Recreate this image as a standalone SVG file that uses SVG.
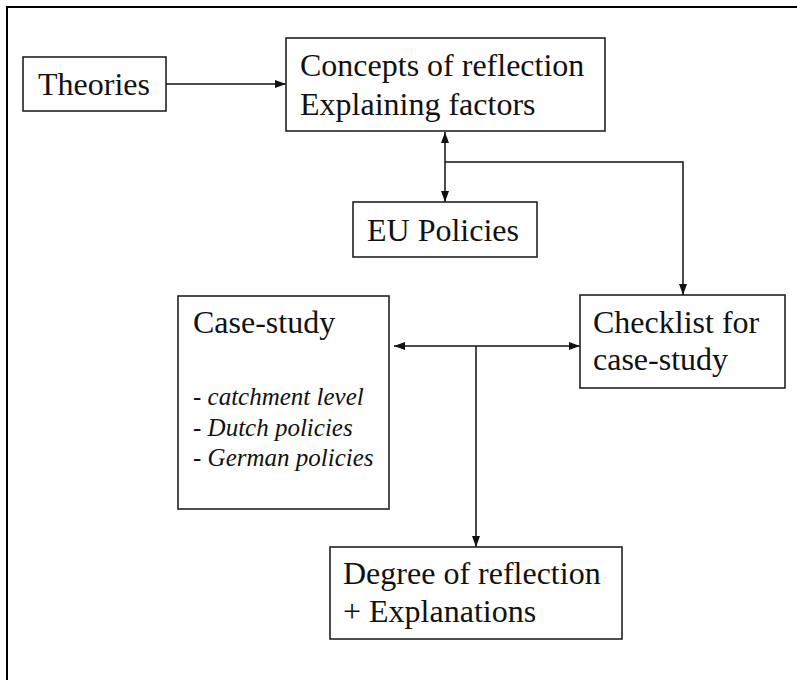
<svg xmlns="http://www.w3.org/2000/svg" width="797" height="680" viewBox="0 0 797 680">
<defs>
<style>
.box{fill:#fff;stroke:#222;stroke-width:1.6}
.t{font-family:"Liberation Serif","Times New Roman",serif;font-size:32px;fill:#111}
.it{font-family:"Liberation Serif","Times New Roman",serif;font-size:25px;font-style:italic;fill:#111}
.c{fill:none;stroke:#111;stroke-width:1.5}
</style>
<marker id="ah" markerUnits="userSpaceOnUse" markerWidth="11" markerHeight="11" viewBox="0 0 11 11" refX="11" refY="5.5" orient="auto-start-reverse">
<path d="M0,1.5 L11,5.5 L0,9.5 z" fill="#111"/>
</marker>
</defs>
<rect x="0" y="0" width="797" height="680" fill="#fff"/>
<rect x="7" y="7" width="810" height="700" fill="none" stroke="#000" stroke-width="2"/>
<g id="connectors">
<line class="c" x1="166" y1="84" x2="286" y2="84" marker-end="url(#ah)"/>
<line class="c" x1="445" y1="132" x2="445" y2="202" marker-start="url(#ah)" marker-end="url(#ah)"/>
<polyline class="c" points="445,162 683,162 683,295" marker-end="url(#ah)"/>
<line class="c" x1="394" y1="346" x2="580" y2="346" marker-start="url(#ah)" marker-end="url(#ah)"/>
<line class="c" x1="476" y1="346" x2="476" y2="547" marker-end="url(#ah)"/>
</g>
<g id="theories">
<rect class="box" x="23" y="57" width="143" height="54"/>
<text class="t" x="38" y="95">Theories</text>
</g>
<g id="concepts">
<rect class="box" x="286" y="38" width="319" height="93"/>
<text class="t" x="300" y="76">Concepts of reflection</text>
<text class="t" x="300" y="115">Explaining factors</text>
</g>
<g id="eu-policies">
<rect class="box" x="353" y="202" width="184" height="55"/>
<text class="t" x="367" y="241">EU Policies</text>
</g>
<g id="case-study">
<rect class="box" x="178" y="296" width="211" height="213"/>
<text class="t" x="193" y="333">Case-study</text>
<text class="it" x="193" y="405">- catchment level</text>
<text class="it" x="193" y="436">- Dutch policies</text>
<text class="it" x="193" y="466">- German policies</text>
</g>
<g id="checklist">
<rect class="box" x="580" y="295" width="205" height="93"/>
<text class="t" x="593" y="333">Checklist for</text>
<text class="t" x="593" y="370">case-study</text>
</g>
<g id="degree">
<rect class="box" x="330" y="547" width="292" height="92"/>
<text class="t" x="343" y="584">Degree of reflection</text>
<text class="t" x="343" y="622">+ Explanations</text>
</g>
</svg>
